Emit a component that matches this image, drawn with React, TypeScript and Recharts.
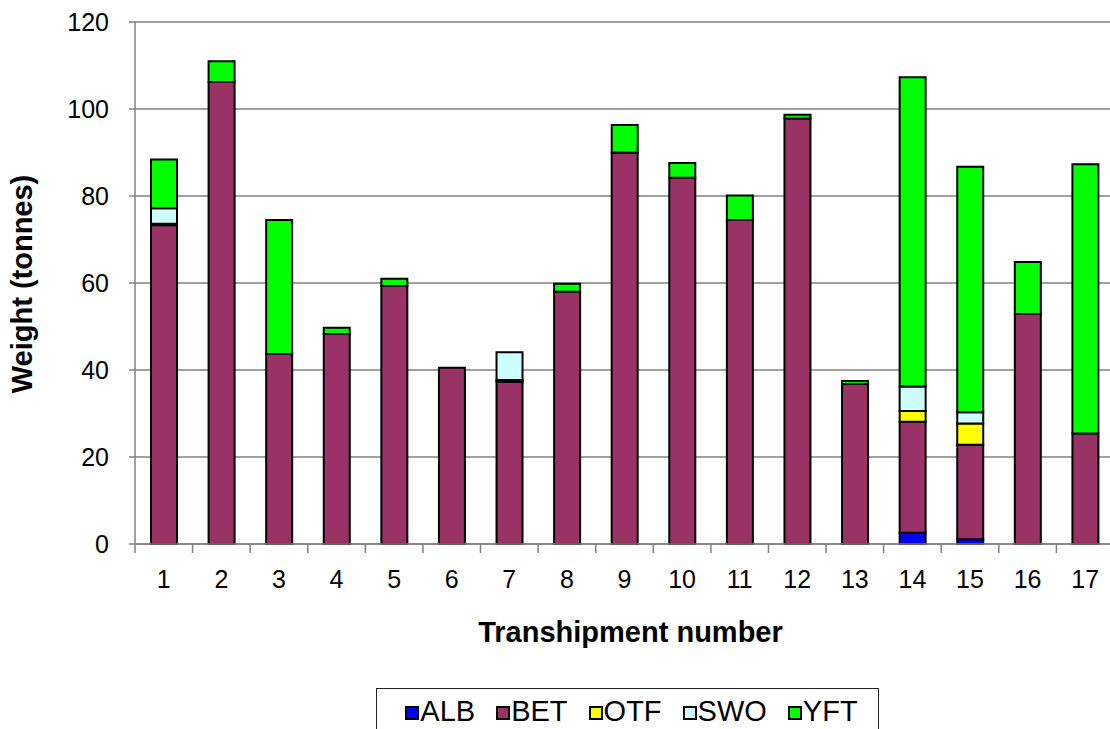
import { Bar, BarChart, CartesianGrid, XAxis, YAxis } from "recharts";

const transhipments = ["1", "2", "3", "4", "5", "6", "7", "8", "9", "10", "11", "12", "13", "14", "15", "16", "17"];
const alb = [0, 0, 0, 0, 0, 0, 0, 0, 0, 0, 0, 0, 0, 2.6, 1.1, 0, 0];
const bet = [73.3, 106.2, 43.7, 48.3, 59.3, 40.5, 37.3, 58, 90, 84.2, 74.5, 97.8, 36.8, 25.5, 21.7, 52.9, 25.4];
const otf = [0.3, 0, 0, 0, 0, 0, 0.4, 0, 0, 0, 0, 0, 0, 2.5, 4.9, 0, 0];
const swo = [3.6, 0, 0, 0, 0, 0, 6.4, 0, 0, 0, 0, 0, 0, 5.6, 2.6, 0, 0];
const yft = [11.2, 4.8, 30.8, 1.4, 1.7, 0, 0, 1.8, 6.3, 3.4, 5.6, 0.9, 0.7, 71.1, 56.4, 11.9, 61.9];
const yTicks = [0, 20, 40, 60, 80, 100, 120];

const SPECIES = [
  { key: "ALB", color: "#0000FF" },
  { key: "BET", color: "#993366" },
  { key: "OTF", color: "#FFFF00" },
  { key: "SWO", color: "#CCFFFF" },
  { key: "YFT", color: "#00FF00" },
];

const data = transhipments.map((t, i) => ({
  name: t,
  ALB: alb[i],
  BET: bet[i],
  OTF: otf[i],
  SWO: swo[i],
  YFT: yft[i],
}));

const FONT = "'Liberation Sans', Arial, sans-serif";
const CHART_W = 1120;
const CHART_H = 729;
const Y_AXIS_W = 135;
const MARGIN = { top: 22, right: 6, left: 0, bottom: 85 };
const PLOT_W = CHART_W - Y_AXIS_W - MARGIN.left - MARGIN.right;
const STEP = PLOT_W / transhipments.length;

const XTick = ({ x, y, payload, index }: any) => {
  const last = index === transhipments.length - 1;
  return (
    <g>
      <line x1={x - STEP / 2} x2={x - STEP / 2} y1={y} y2={y + 9} stroke="#808080" strokeWidth={1.5} />
      {last && <line x1={x + STEP / 2} x2={x + STEP / 2} y1={y} y2={y + 9} stroke="#808080" strokeWidth={1.5} />}
      <text x={x} y={y + 44} textAnchor="middle" fontSize={25} fontFamily={FONT} fill="#000">
        {payload.value}
      </text>
    </g>
  );
};

// legend box sits at the bottom edge, like the original (its lower border is off-page)
const LegendBox = () => (
  <div
    style={{
      position: "absolute",
      left: 376,
      top: 688,
      width: 503,
      height: 70,
      boxSizing: "border-box",
      border: "1.5px solid #222",
      display: "flex",
      justifyContent: "center",
      gap: 21,
      paddingTop: 5,
      paddingLeft: 8,
      fontFamily: FONT,
      fontSize: 29,
      lineHeight: "34px",
      background: "#fff",
    }}
  >
    {SPECIES.map((s) => (
      <div key={s.key} style={{ display: "flex", alignItems: "center", height: 34 }}>
        <span
          style={{
            display: "inline-block",
            width: 10,
            height: 10,
            background: s.color,
            border: "2px solid #000",
            marginRight: 1,
            marginTop: 4,
          }}
        />
        <span>{s.key}</span>
      </div>
    ))}
  </div>
);

export default function App() {
  return (
    <div style={{ position: "absolute", left: 0, top: 0, width: 1110, height: 729, overflow: "hidden", background: "#fff" }}>
      <BarChart width={CHART_W} height={CHART_H} data={data} margin={MARGIN} barSize={26}>
        <CartesianGrid vertical={false} stroke="#808080" strokeWidth={1.5} />
        <XAxis
          dataKey="name"
          tickLine={false}
          tickSize={0}
          tickMargin={0}
          interval={0}
          height={100}
          axisLine={{ stroke: "#808080", strokeWidth: 1.5 }}
          tick={<XTick />}
          label={({ viewBox }: any) => (
            <text
              x={viewBox.x + viewBox.width / 2 + 6}
              y={viewBox.y + 98}
              textAnchor="middle"
              fontSize={29}
              fontWeight="bold"
              fontFamily={FONT}
              fill="#000"
            >
              Transhipment number
            </text>
          )}
        />
        <YAxis
          width={Y_AXIS_W}
          domain={[0, 120]}
          ticks={yTicks}
          interval={0}
          tickSize={6}
          tickMargin={20}
          tickLine={{ stroke: "#808080", strokeWidth: 1.5 }}
          axisLine={{ stroke: "#808080", strokeWidth: 1.5 }}
          tick={{ fontSize: 25, fontFamily: FONT, fill: "#000" }}
          label={({ viewBox }: any) => {
            const cx = 32;
            const cy = viewBox.y + viewBox.height / 2 + 1;
            return (
              <text
                x={cx}
                y={cy}
                transform={`rotate(-90, ${cx}, ${cy})`}
                textAnchor="middle"
                fontSize={29}
                fontWeight="bold"
                fontFamily={FONT}
                fill="#000"
              >
                Weight (tonnes)
              </text>
            );
          }}
        />
        {SPECIES.map((s) => (
          <Bar
            key={s.key}
            dataKey={s.key}
            stackId="w"
            fill={s.color}
            stroke="#000"
            strokeWidth={2}
            isAnimationActive={false}
          />
        ))}
      </BarChart>
      <LegendBox />
    </div>
  );
}
